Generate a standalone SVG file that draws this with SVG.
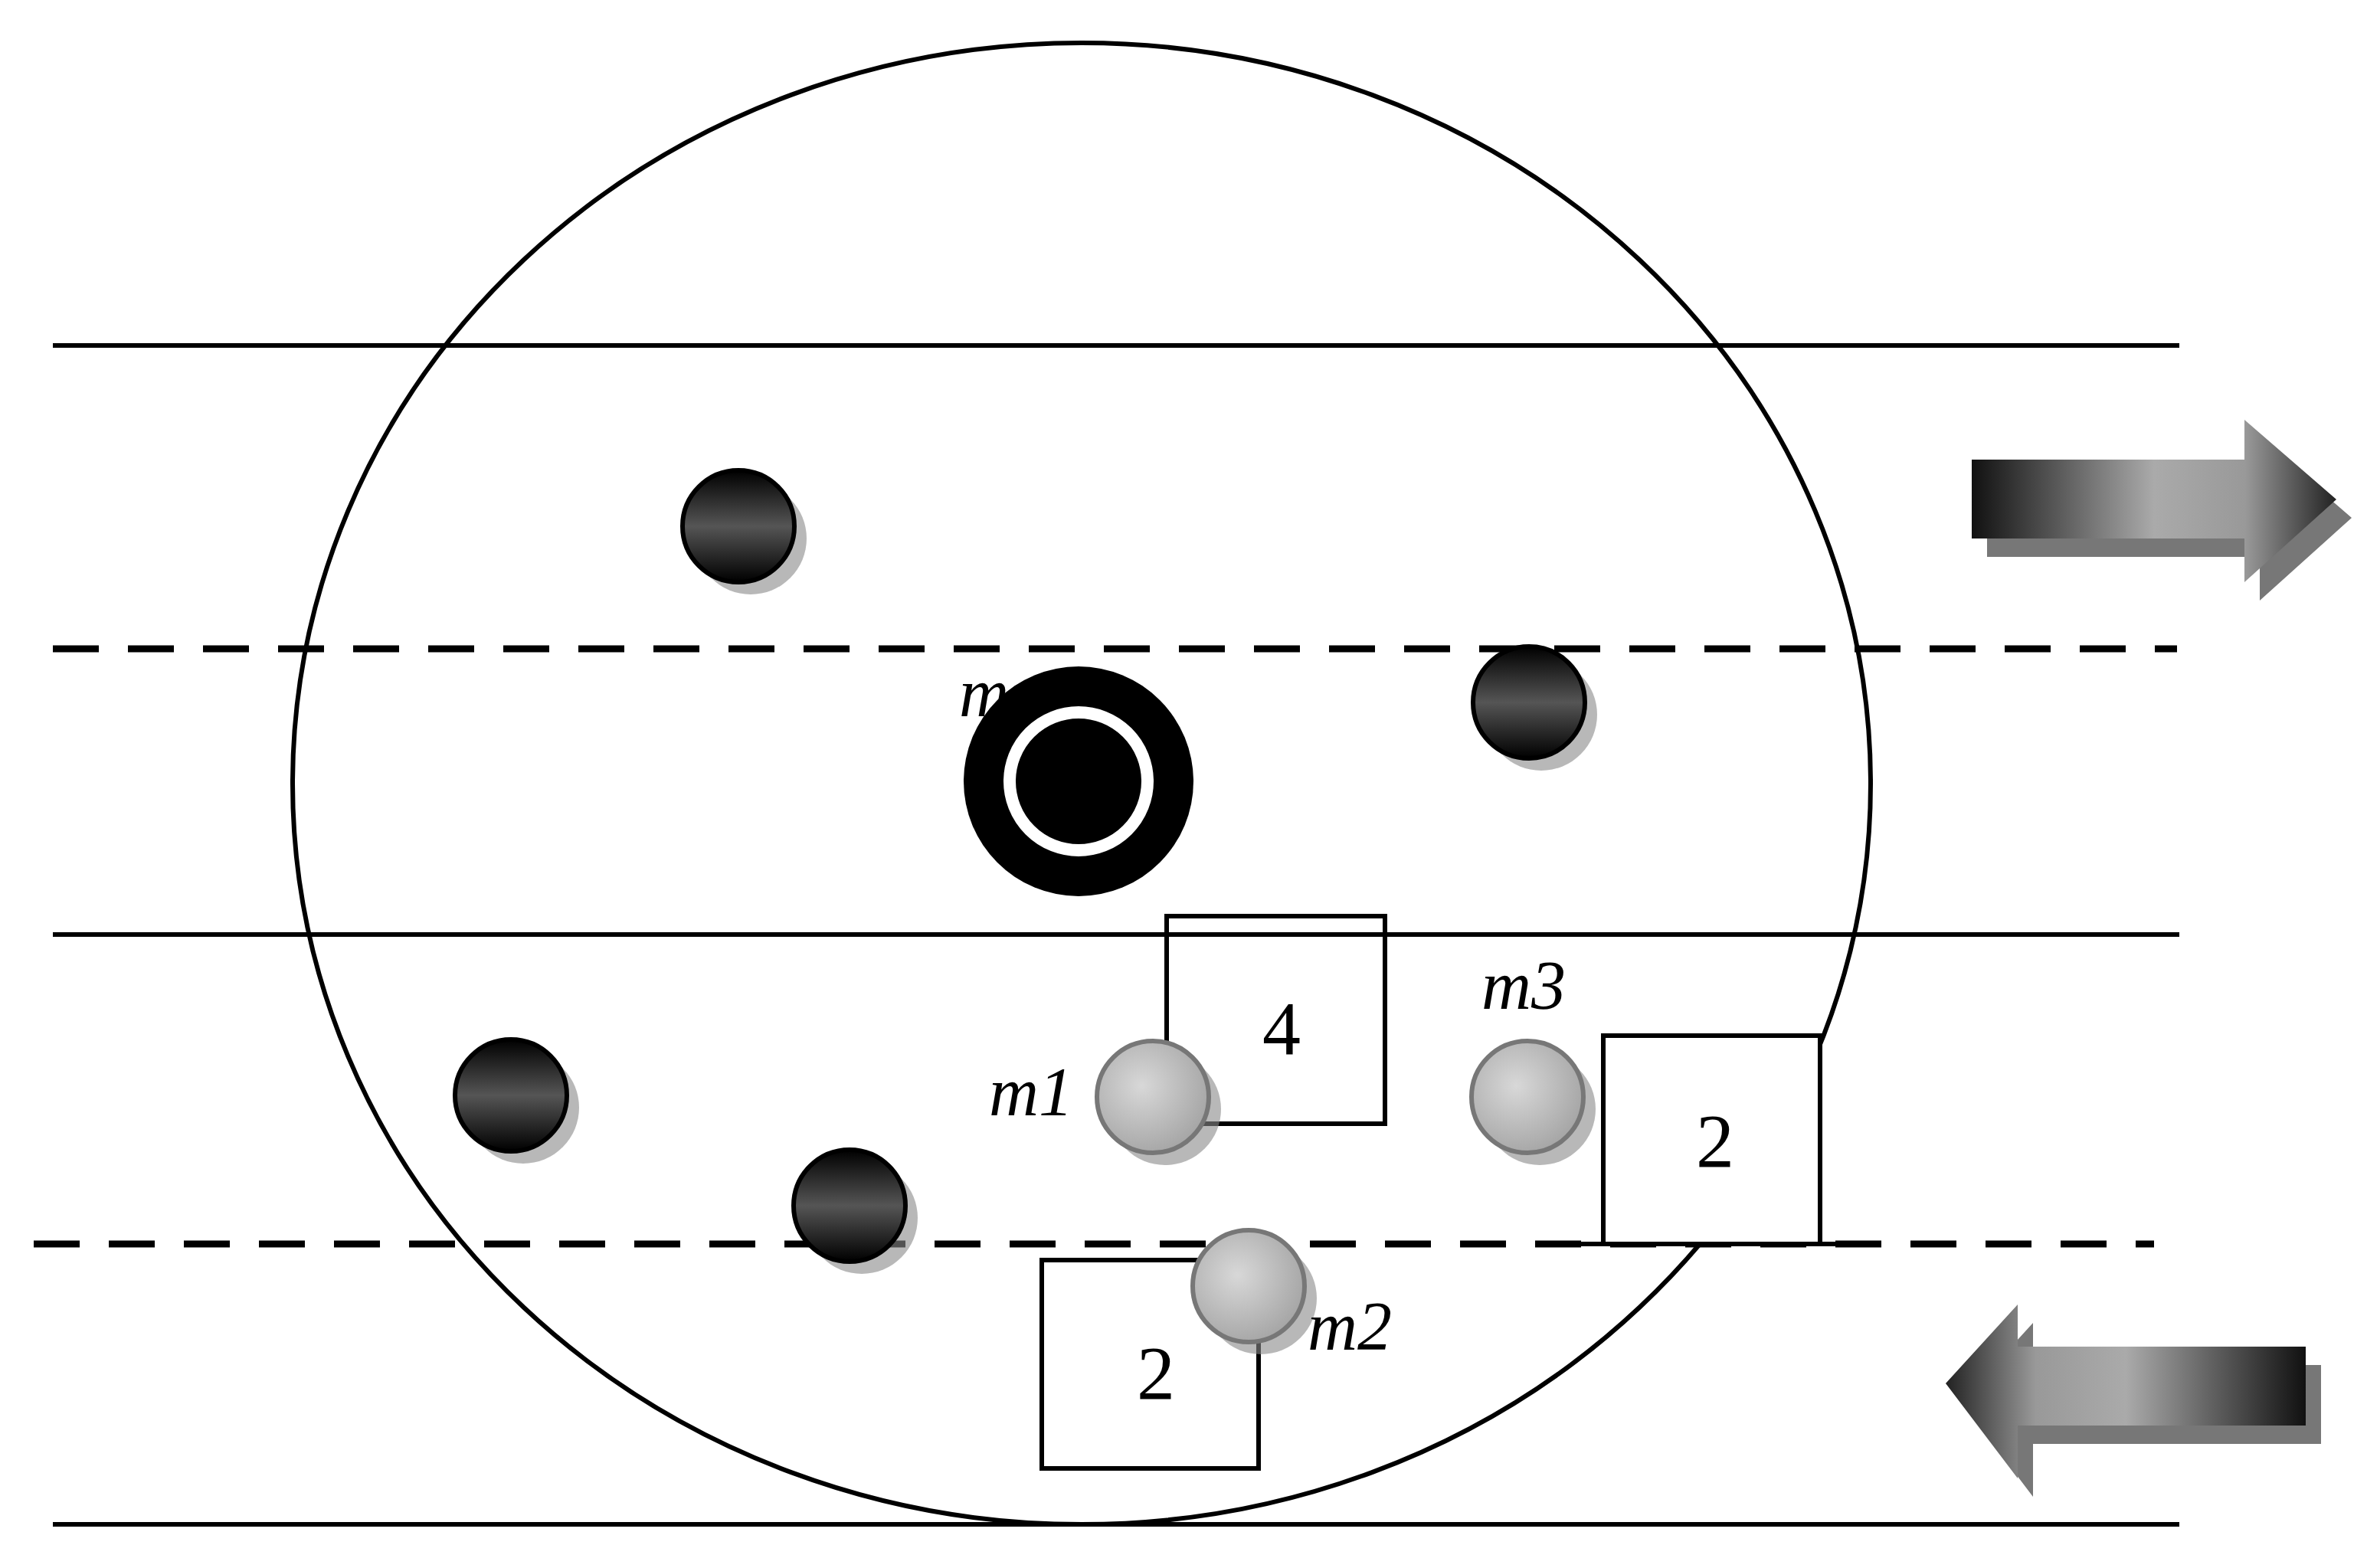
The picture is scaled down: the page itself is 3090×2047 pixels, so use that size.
<svg xmlns="http://www.w3.org/2000/svg" width="3090" height="2047" viewBox="0 0 3090 2047">
<defs>
<linearGradient id="dk" x1="0" y1="0" x2="0" y2="1"><stop offset="0" stop-color="#000"/><stop offset="0.5" stop-color="#555"/><stop offset="1" stop-color="#000"/></linearGradient>
<radialGradient id="gr" cx="0.4" cy="0.4" r="0.7"><stop offset="0" stop-color="#d8d8d8"/><stop offset="1" stop-color="#a0a0a0"/></radialGradient>
<linearGradient id="ar" x1="0" y1="0" x2="1" y2="0"><stop offset="0" stop-color="#111"/><stop offset="0.5" stop-color="#aaa"/><stop offset="0.75" stop-color="#999"/><stop offset="1" stop-color="#222"/></linearGradient>
<linearGradient id="al" x1="1" y1="0" x2="0" y2="0"><stop offset="0" stop-color="#111"/><stop offset="0.5" stop-color="#aaa"/><stop offset="0.75" stop-color="#999"/><stop offset="1" stop-color="#222"/></linearGradient>
</defs>
<style>
.s{stroke:#000;stroke-width:6;fill:none}
.d{stroke:#000;stroke-width:9;stroke-dasharray:60 38;fill:none}
.dk{fill:url(#dk);stroke:#000;stroke-width:6}
.sh{fill:#888;opacity:0.6}
.g{fill:url(#gr);stroke:#777;stroke-width:6}
.bx{fill:#fff;stroke:#000;stroke-width:6}
.t{font-family:"Liberation Serif",serif;font-style:italic;font-size:90px;fill:#000}
.n{font-family:"Liberation Serif",serif;font-size:100px;fill:#000;text-anchor:middle}
</style>
<rect width="3090" height="2047" fill="#fff"/>
<g id="lanes">
<line class="s" x1="69" y1="451" x2="2845" y2="451"/>
<line class="s" x1="69" y1="1220" x2="2845" y2="1220"/>
<line class="s" x1="69" y1="1990" x2="2845" y2="1990"/>
<line class="d" x1="69" y1="847" x2="2842" y2="847"/>
<line class="d" x1="44" y1="1624" x2="2812" y2="1624"/>
</g>
<ellipse id="range" class="s" cx="1412" cy="1023" rx="1030" ry="967"/>
<g id="box4"><rect x="1523" y="1196" width="285" height="271" fill="none" stroke="#000" stroke-width="6"/><text class="n" x="1673" y="1376">4</text></g>
<g id="box2r"><rect class="bx" x="2093" y="1352" width="283" height="272"/><line class="s" x1="2039" y1="1624" x2="2412" y2="1624"/><text class="n" x="2239" y="1523">2</text></g>
<g id="box2l"><rect class="bx" x="1360" y="1645" width="283" height="272"/><text class="n" x="1509" y="1826">2</text></g>
<g id="vehicles">
<circle class="sh" cx="980" cy="703" r="73"/><circle class="dk" cx="964" cy="687" r="73"/>
<circle class="sh" cx="2012" cy="933" r="73"/><circle class="dk" cx="1996" cy="917" r="73"/>
<circle class="sh" cx="683" cy="1446" r="73"/><circle class="dk" cx="667" cy="1430" r="73"/>
<circle class="sh" cx="1125" cy="1590" r="73"/><circle class="dk" cx="1109" cy="1574" r="73"/>
</g>
<g id="target">
<text class="t" x="1252" y="935">m</text>
<circle cx="1408" cy="1020" r="150" fill="#000"/>
<circle cx="1408" cy="1020" r="90" fill="none" stroke="#fff" stroke-width="16"/>
</g>
<g id="m1"><circle class="sh" cx="1521" cy="1448" r="73"/><circle class="g" cx="1505" cy="1432" r="73"/><text class="t" x="1291" y="1456">m1</text></g>
<g id="m3"><circle class="sh" cx="2010" cy="1448" r="73"/><circle class="g" cx="1994" cy="1432" r="73"/><text class="t" x="1934" y="1317">m3</text></g>
<g id="m2"><circle class="sh" cx="1646" cy="1695" r="73"/><circle class="g" cx="1630" cy="1679" r="73"/><text class="t" x="1707" y="1762">m2</text></g>
<g id="arrows">
<polygon fill="#777" points="2594,624 2950,624 2950,572 3070,676 2950,784 2950,727 2594,727"/>
<polygon fill="url(#ar)" points="2574,600 2930,600 2930,548 3050,652 2930,760 2930,703 2574,703"/>
<polygon fill="#777" points="3030,1782 2654,1782 2654,1727 2560,1830 2654,1954 2654,1885 3030,1885"/>
<polygon fill="url(#al)" points="3010,1758 2634,1758 2634,1703 2540,1806 2634,1930 2634,1861 3010,1861"/>
</g>
</svg>
